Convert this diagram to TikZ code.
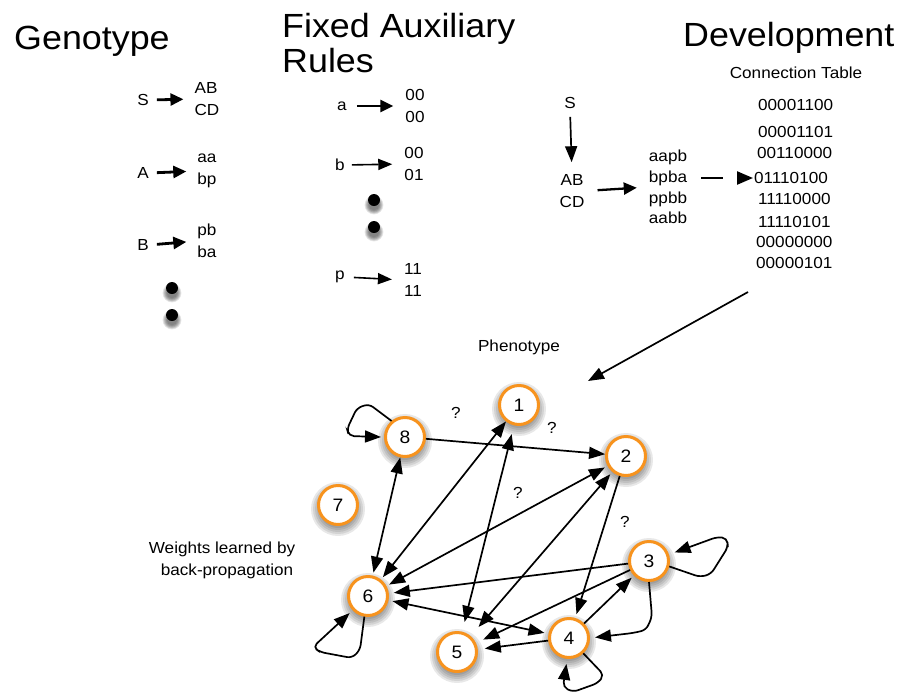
\documentclass[tikz,border=0pt]{standalone}
\usepackage{fontspec}
\setmainfont{Liberation Sans}[FakeStretch=1.07]
\usetikzlibrary{arrows.meta}
\definecolor{nodeorange}{RGB}{247,147,30}
\begin{document}
\begin{tikzpicture}[x=1pt,y=-1pt,
  big/.style={font=\fontsize{33.5}{36}\selectfont, inner sep=0pt, anchor=base west},
  sm/.style={font=\fontsize{16}{22}\selectfont, inner sep=0pt, align=center},
  lines/.style={font=\fontsize{16}{#1}\selectfont, inner sep=0pt, align=center},
  netnode/.style={circle, draw=nodeorange, line width=3pt, fill=white, minimum size=39pt, inner sep=0pt, font=\fontsize{18}{18}\selectfont},
  tip/.style={-{Triangle[length=16pt,width=12pt]}},
  arr/.style={line width=1.7pt, tip},
  dbl/.style={line width=1.7pt, {Triangle[length=16pt,width=12pt]}-{Triangle[length=16pt,width=12pt]}},
  rthick/.style={line width=2.8pt, -{Triangle[length=13pt,width=12pt]}},
  rthin/.style={line width=1.6pt, -{Triangle[length=14pt,width=11pt]}},
  loopl/.style={line width=1.7pt, tip, rounded corners=5pt},
]
\useasboundingbox (0,0) rectangle (903,694);

% ---------- headings
\node[big] (hGen) at (14,49) {Genotype};
\node[big] (hFix) at (282,37) {Fixed Auxiliary};
\node[big] (hRul) at (282,72) {Rules};
\node[big] (hDev) at (683,46) {Development};

% ---------- soft shadows
\newcommand\softshadow[3]{%
  \foreach \rr in {1.35,1.25,1.15,1.05,0.95,0.85,0.75}{%
    \fill[black,opacity=0.09] (#1,#2) circle ({#3*\rr*1pt});}}
\softshadow{172}{293}{7}
\softshadow{172}{320}{7}
\softshadow{374}{205}{7}
\softshadow{374}{232}{7}

% ---------- genotype rules
\node[sm] (gS) at (143,100) {S};
\node[sm, align=left] (gSr) at (207,99) {AB\\CD};
\draw[rthick, shorten <=8pt, shorten >=11pt] (gS.east) -- (gSr.west);
\node[sm] (gA) at (143,173) {A};
\node[sm, align=left] (gAr) at (207,171) {aa\\bp};
\draw[rthick, shorten <=8pt, shorten >=11pt] (gA.east) -- (gAr.west);
\node[sm] (gB) at (143,245) {B};
\node[sm, align=left] (gBr) at (207,241) {pb\\ba};
\draw[rthick, shorten <=8pt, shorten >=11pt] (gB.east) -- (gBr.west);
\fill (172,288) circle (6pt);
\fill (172,315) circle (6pt);

% ---------- fixed auxiliary rules
\node[sm] (fa) at (342,106) {a};
\node[sm, align=left] (far) at (415,106) {00\\00};
\draw[rthick, shorten <=10pt, shorten >=12pt] (fa.east) -- (far.west);
\node[sm] (fb) at (340,165) {b};
\node[sm, align=left] (fbr) at (414,164) {00\\01};
\draw[rthin, shorten <=7pt, shorten >=12pt] (fb.east) -- (fbr.west);
\fill (374,200) circle (6pt);
\fill (374,227) circle (6pt);
\node[sm] (fp) at (340,277) {p};
\node[sm, align=left] (fpr) at (413,280) {11\\11};
\draw[rthin, shorten <=9pt, shorten >=12pt] (fp.east) -- (fpr.west);

% ---------- development
\node[sm] (ct) at (796,73) {Connection Table};
\node[sm] (dS) at (570,103) {S};
\node[sm] (dAB) at (572,191) {AB\\CD};
\draw[arr, shorten <=8pt, shorten >=12pt] (dS.south) -- (dAB.north);
\node[lines=20.7] (dStr) at (668,187) {aapb\\bpba\\ppbb\\aabb};
\draw[rthick, line width=2.3pt, shorten <=13pt, shorten >=12pt] (dAB.east) -- (dStr.west);
\node[sm, anchor=west] (t1) at (758,105) {00001100};
\node[sm, anchor=west] (t2) at (758,132) {00001101};
\node[sm, anchor=west] (t3) at (757,153) {00110000};
\node[sm, anchor=west] (t4) at (754,178) {01110100};
\node[sm, anchor=west] (t5) at (758,199) {11110000};
\node[sm, anchor=west] (t6) at (758,222) {11110101};
\node[sm, anchor=west] (t7) at (756,242) {00000000};
\node[sm, anchor=west] (t8) at (756,263) {00000101};
\draw[line width=2.3pt, -{Triangle[length=16pt,width=13pt]}, dash pattern=on 22pt off 40pt, shorten <=14pt, shorten >=1pt] (dStr.east |- t4.west) -- (t4.west);

% ---------- phenotype
\node[sm] (phen) at (519,347) {Phenotype};
\coordinate (devA) at (748,292);
\coordinate (devB) at (588,381);
\draw[arr] (devA) -- (devB);

\node[lines=22] (wts) at (222,560) {Weights learned by\\\hspace*{10pt}back-propagation};

% node shadows
\softshadow{519}{409}{20}
\softshadow{405}{441}{20}
\softshadow{626}{460}{20}
\softshadow{338}{509}{20}
\softshadow{368}{600}{20}
\softshadow{649}{565}{20}
\softshadow{569}{642}{20}
\softshadow{457}{656}{20}

\node[netnode] (n1) at (519,405) {1};
\node[netnode] (n8) at (405,437) {8};
\node[netnode] (n2) at (626,456) {2};
\node[netnode] (n7) at (338,505) {7};
\node[netnode] (n6) at (368,596) {6};
\node[netnode] (n3) at (649,561) {3};
\node[netnode] (n4) at (569,638) {4};
\node[netnode] (n5) at (457,652) {5};

% question marks
\node[sm] (q1) at (456,413) {?};
\node[sm] (q2) at (552,428) {?};
\node[sm] (q3) at (518,493) {?};
\node[sm] (q4) at (625,522) {?};

% edges
\draw[arr] (n8) -- (n2);
\draw[dbl, shorten <=3pt] (n6) -- (n8);
\draw[dbl, shorten <=3pt] (n6) -- (n1);
\draw[dbl, shorten <=3pt, shorten >=3pt] (n6) -- (n2);
\draw[dbl, shorten <=4pt, shorten >=4pt] (n6) -- (n4);
\draw[dbl, shorten <=10pt, shorten >=9pt] (n5) -- (n1);
\draw[dbl, shorten <=12pt, shorten >=3pt] (n5) -- (n2);
\draw[arr, shorten >=4pt] (n2) -- (n4);
\draw[arr, shorten >=5pt] (n3) -- (n6);
\draw[arr, shorten >=8pt] (n3) -- (n5);
\draw[arr, shorten >=3pt] (n4) -- (n3);
\draw[arr, shorten >=7pt] (n4) -- (n5);

% self loops and curved edge
\draw[loopl] (n8.130) -- (369,404) -- (357,408) -- (347,429) -- (349,436) -- ([xshift=-3pt]n8.west);
\draw[loopl, shorten >=6pt] (n3.-15) -- (700,577) -- (711,574) -- (728,547) -- (727,538) -- (717,537) -- (n3.18);
\draw[loopl, shorten >=5pt] (n3.south) -- (652,617) -- (646,630) -- (633,633) -- (n4.east);
\draw[loopl, shorten >=5pt] (n4.-47) -- (604,675) -- (598,683) -- (573,692) -- (563,687) -- (n4.-95);
\draw[loopl, shorten >=4pt] (n6.-100) -- (360,650) -- (352,658) -- (320,652) -- (313,647) -- (n6.-137);
\end{tikzpicture}
\end{document}
